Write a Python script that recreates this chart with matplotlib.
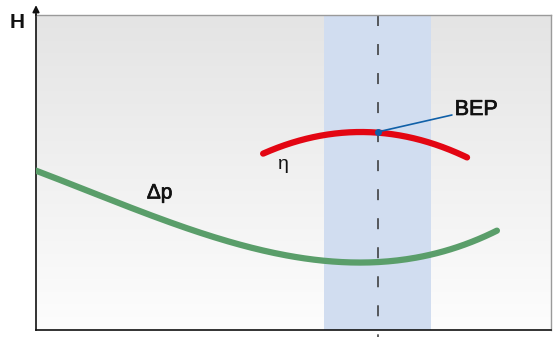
import numpy as np
import matplotlib
matplotlib.use("Agg")
import matplotlib.pyplot as plt
import matplotlib.patheffects as pe
from matplotlib.colors import LinearSegmentedColormap

plt.rcParams['font.family'] = ['Liberation Sans', 'DejaVu Sans']

W, H = 555, 337
eta_x = [44.1, 51.3, 59.0, 66.4, 74.6, 83.7]
eta_y = [56.2, 60.0, 62.2, 62.9, 60.6, 54.6]
dp_x = [0.0, 12.4, 22.1, 31.8, 41.6, 51.3, 64.9, 74.6, 82.3, 89.5]
dp_y = [50.5, 42.9, 36.5, 30.8, 26.0, 23.2, 21.6, 23.2, 26.3, 31.7]
band = [56.0, 76.7]
bep_x, bep_y = 66.4, 62.9

fig = plt.figure(figsize=(W / 100, H / 100), dpi=100)
ax = fig.add_axes([36 / W, 7 / H, 515 / W, 315 / H])
ax.set_xlim(0, 100)
ax.set_ylim(0, 100)

cmap = LinearSegmentedColormap.from_list("g", ["#fdfdfd", "#e4e4e4"])
grad = np.linspace(0, 1, 256).reshape(-1, 1)
ax.imshow(grad, extent=[0, 100, 0, 100], origin="lower", cmap=cmap, aspect="auto", zorder=0)

ax.axvspan(band[0], band[1], color="#d1ddf0", zorder=1, lw=0)
ax.plot([bep_x, bep_x], [100, -3], color="#333333", lw=1.1, dashes=(7.2, 11.8), zorder=2, clip_on=False)


def smooth(xs, ys, n=200):
    c = np.polyfit(xs, ys, 3 if len(xs) > 6 else 2)
    xx = np.linspace(xs[0], xs[-1], n)
    return xx, np.polyval(c, xx)


xx, yy = smooth(eta_x, eta_y)
ax.plot(xx, yy, color="#e30613", lw=4.5, solid_capstyle="round", zorder=3)
xx, yy = smooth(dp_x, dp_y)
ax.plot(xx, yy, color="#5a9e6a", lw=4.5, solid_capstyle="round", zorder=3)

stroke = [pe.withStroke(linewidth=0.5, foreground="#111111")]

ax.plot([bep_x], [bep_y], "o", color="#1060a8", ms=4, zorder=5)
ax.annotate("BEP", xy=(bep_x, bep_y), xytext=(81.3, 70.0), fontsize=15.5, color="#111111",
            va="center", ha="left", path_effects=stroke,
            arrowprops=dict(arrowstyle="-", color="#1060a8", lw=1.2, shrinkA=0, shrinkB=0), zorder=5)

ax.text(48.0, 52.5, "η", fontsize=14, ha="center", va="center", color="#111111")
ax.text(24.0, 43.5, "Δp", fontsize=15, ha="center", va="center", color="#111111", path_effects=stroke)

for s in ["top", "right"]:
    ax.spines[s].set_color("#9a9a9a")
    ax.spines[s].set_linewidth(1.0)
for s in ["left", "bottom"]:
    ax.spines[s].set_color("#111111")
    ax.spines[s].set_linewidth(1.2)
ax.set_xticks([])
ax.set_yticks([])

ax.annotate("", xy=(0, 104), xytext=(0, 99), xycoords="data",
            arrowprops=dict(arrowstyle="-|>", color="#111111", lw=1.2, mutation_scale=10), annotation_clip=False)
fig.text(17 / W, 1 - 22 / H, "H", fontsize=15, ha="center", va="center", color="#111111", weight="bold")

fig.savefig("out.png", dpi=100)
